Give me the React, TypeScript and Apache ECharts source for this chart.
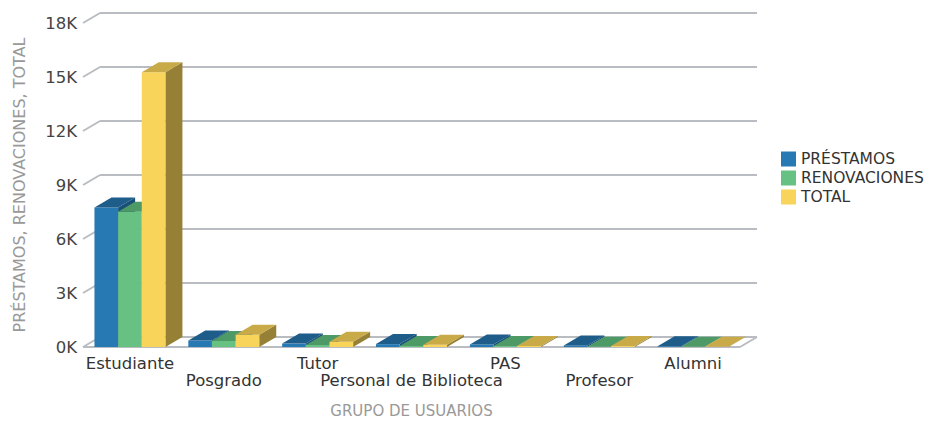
import React, { useEffect, useRef } from 'react';
import * as echarts from 'echarts';

const categories = ['Estudiante', 'Posgrado', 'Tutor', 'Personal de Biblioteca', 'PAS', 'Profesor', 'Alumni'];
const prestamos = [7750, 360, 190, 160, 140, 90, 40];
const renovaciones = [7520, 330, 110, 60, 50, 20, 15];
const total = [15270, 680, 290, 120, 60, 50, 12];
const seriesNames = ['PRÉSTAMOS', 'RENOVACIONES', 'TOTAL'];
const yTicks = [0, 3000, 6000, 9000, 12000, 15000, 18000];

const DX = 17;
const DY = 10;
const FONT = 'DejaVu Sans';
const GRID_COLOR = '#b9bcc0';

const palettes = [
  { front: '#2779b4', top: '#1e5d8a', side: '#1a5078' },
  { front: '#67c183', top: '#4e9a67', side: '#3f7d53' },
  { front: '#f8d45b', top: '#c9aa48', side: '#968036' },
];

export default function App() {
  const ref = useRef<HTMLDivElement>(null);
  useEffect(() => {
    const chart = echarts.init(ref.current!, null, { renderer: 'svg' });
    const seriesData = [prestamos, renovaciones, total];
    const barSeries = seriesData.map((vals, si) => ({
      type: 'custom',
      name: seriesNames[si],
      itemStyle: { color: palettes[si].front },
      data: vals.map((v, i) => [i, v]),
      encode: { x: 0, y: 1 },
      z: 3,
      renderItem: (params: any, api: any) => {
        const ci = api.value(0);
        const v = api.value(1);
        const top = api.coord([ci, v]);
        const base = api.coord([ci, 0]);
        const band = api.size([1, 0])[0];
        const w = band * 0.252;
        const x0 = top[0] - 1.5 * w + si * w;
        const x1 = x0 + w;
        const yt = top[1];
        const yb = base[1];
        const p = palettes[si];
        return {
          type: 'group',
          children: [
            { type: 'polygon', shape: { points: [[x1, yt], [x1 + DX, yt - DY], [x1 + DX, yb - DY], [x1, yb]] }, style: { fill: p.side } },
            { type: 'rect', shape: { x: x0, y: yt, width: w, height: yb - yt }, style: { fill: p.front } },
            { type: 'polygon', shape: { points: [[x0, yt], [x0 + DX, yt - DY], [x1 + DX, yt - DY], [x1, yt]] }, style: { fill: p.top } },
          ],
        };
      },
    }));

    const gridSeries = {
      type: 'custom',
      name: 'grid',
      silent: true,
      z: 1,
      data: yTicks.map((v) => [0, v]),
      encode: { x: 0, y: 1 },
      renderItem: (params: any, api: any) => {
        const cs = params.coordSys;
        const v = api.value(1);
        const y = api.coord([0, v])[1];
        const xl = cs.x;
        const xr = cs.x + cs.width;
        const st = { stroke: GRID_COLOR, lineWidth: 2 };
        const children: any[] = [
          { type: 'line', shape: { x1: xl, y1: y, x2: xl + DX, y2: y - DY }, style: st },
          { type: 'line', shape: { x1: xl + DX, y1: y - DY, x2: xr + DX, y2: y - DY }, style: st },
        ];
        if (v === 0) {
          children.push({ type: 'line', shape: { x1: xl, y1: y, x2: xr, y2: y }, style: st });
          children.push({ type: 'line', shape: { x1: xr, y1: y, x2: xr + DX, y2: y - DY }, style: st });
        }
        return { type: 'group', children };
      },
    };

    chart.setOption({
      animation: false,
      backgroundColor: '#ffffff',
      textStyle: { fontFamily: FONT },
      grid: { left: 83, top: 23, width: 657, height: 330, containLabel: false },
      legend: {
        data: seriesNames,
        orient: 'vertical',
        left: 776,
        top: 146,
        itemWidth: 15,
        itemHeight: 15,
        itemGap: 3,
        icon: 'rect',
        textStyle: { fontFamily: FONT, fontSize: 15.5, color: '#333', lineHeight: 15 },
      },
      xAxis: {
        type: 'category',
        data: categories,
        name: 'GRUPO DE USUARIOS',
        nameLocation: 'middle',
        nameGap: 56,
        nameTextStyle: { fontFamily: FONT, fontSize: 15, color: '#999' },
        axisLine: { show: false },
        axisTick: { show: false },
        axisLabel: {
          interval: 0,
          margin: 8,
          fontFamily: FONT,
          fontSize: 16.5,
          color: '#333',
          lineHeight: 17,
          formatter: (val: string, idx: number) => (idx % 2 === 1 ? '\n' + val : val),
        },
        splitLine: { show: false },
      },
      yAxis: {
        type: 'value',
        min: 0,
        max: 18000,
        interval: 3000,
        name: 'PRÉSTAMOS, RENOVACIONES, TOTAL',
        nameLocation: 'middle',
        nameRotate: 90,
        nameGap: 56,
        nameTextStyle: { fontFamily: FONT, fontSize: 16, color: '#999' },
        axisLine: { show: false },
        axisTick: { show: false },
        splitLine: { show: false },
        axisLabel: {
          margin: 6,
          fontFamily: FONT,
          fontSize: 16.5,
          color: '#444',
          formatter: (v: number) => v / 1000 + 'K',
        },
      },
      series: [gridSeries, ...barSeries],
    });
    return () => chart.dispose();
  }, []);
  return <div ref={ref} style={{ position: 'fixed', left: 0, top: 0, width: 929, height: 423 }} />;
}
